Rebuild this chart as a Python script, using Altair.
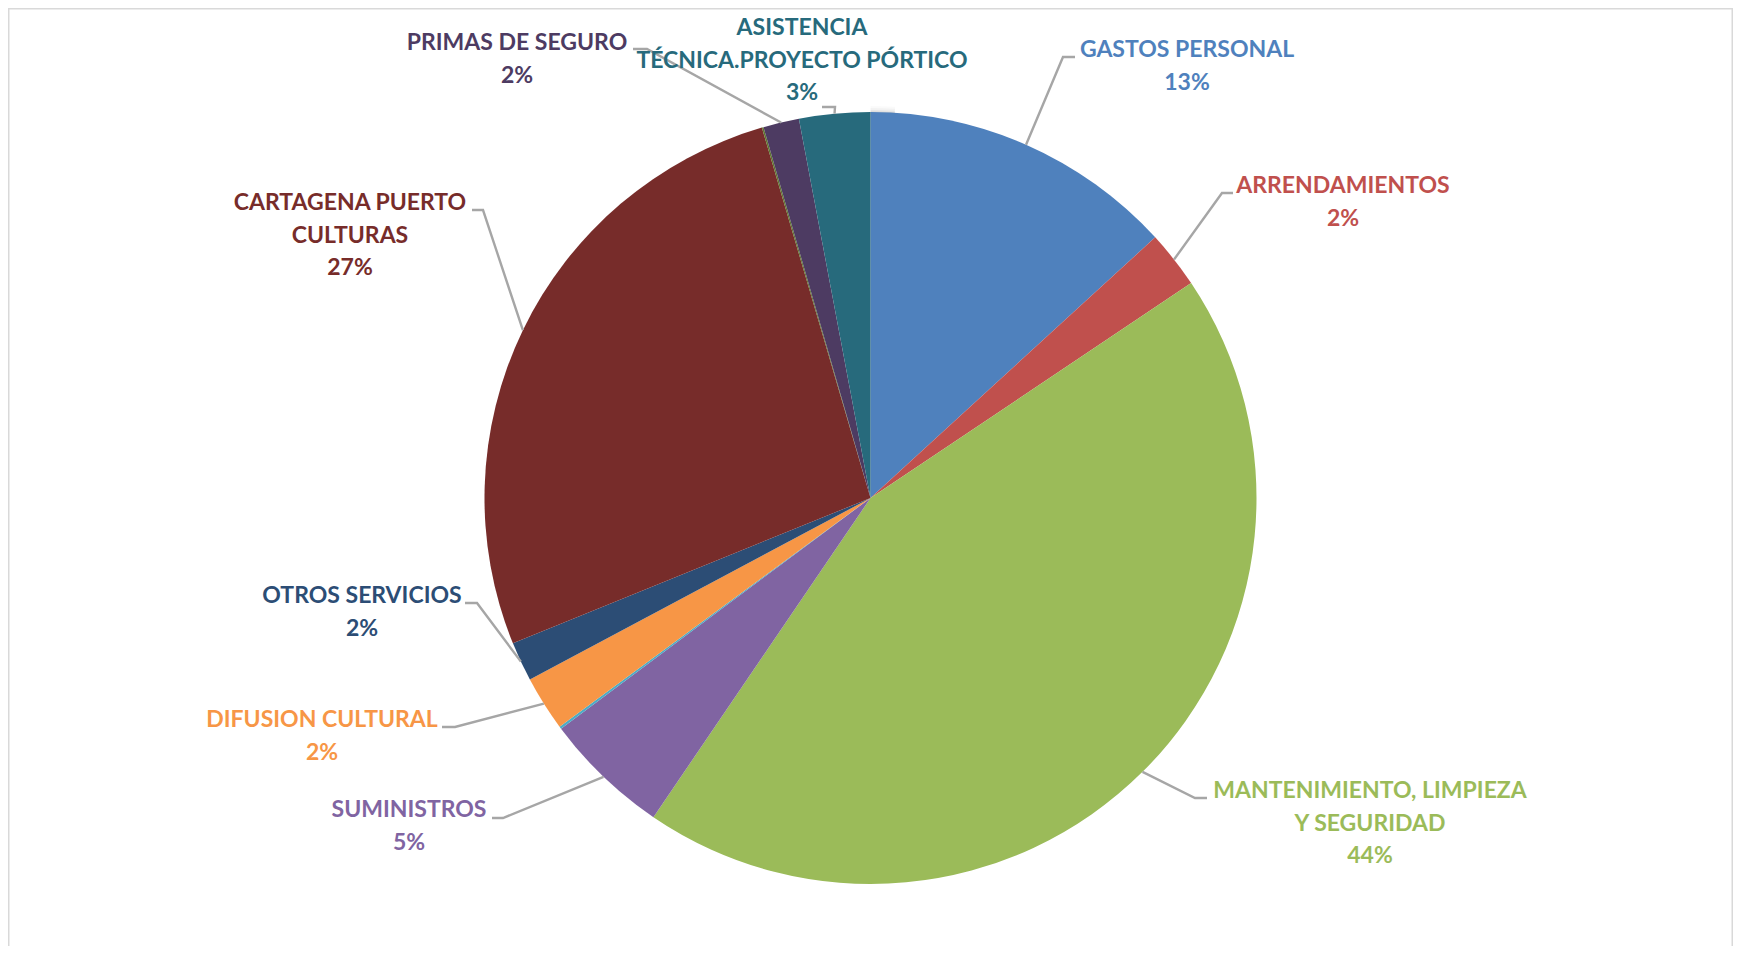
import math
import altair as alt
import pandas as pd

# ---- data ----
categories = [
    "GASTOS PERSONAL", "ARRENDAMIENTOS", "MANTENIMIENTO, LIMPIEZA Y SEGURIDAD",
    "SUMINISTROS", "OTROS (sin etiqueta)", "DIFUSION CULTURAL", "OTROS SERVICIOS",
    "CARTAGENA PUERTO CULTURAS", "OTROS 2 (sin etiqueta)", "PRIMAS DE SEGURO",
    "ASISTENCIA TÉCNICA.PROYECTO PÓRTICO",
]
values = [13.2, 2.4, 43.9, 5.3, 0.1, 2.3, 1.65, 26.6, 0.07, 1.5, 2.97]
label_lines = [
    ["GASTOS PERSONAL"], ["ARRENDAMIENTOS"], ["MANTENIMIENTO, LIMPIEZA", "Y SEGURIDAD"],
    ["SUMINISTROS"], [], ["DIFUSION CULTURAL"], ["OTROS SERVICIOS"],
    ["CARTAGENA PUERTO", "CULTURAS"], [], ["PRIMAS DE SEGURO"],
    ["ASISTENCIA", "TÉCNICA.PROYECTO PÓRTICO"],
]
colors = ["#4F81BD", "#C0504D", "#9BBB59", "#8064A2", "#4BACC6", "#F79646",
          "#2C4D75", "#772C2A", "#5F7530", "#4D3B62", "#276A7C"]

# ---- layout (pixels in chart space) ----
W, H = 1725, 938
CX, CY, R = 862.5, 490, 386
# label anchor (center x, first baseline y) and leader elbow / end points
label_x = [1179, 1335, 1362, 401, None, 314, 354, 342, None, 509, 794]
label_y = [49, 185, 790, 809, None, 719, 595, 202, None, 42, 27]
elbow_x = [1055, 1214, 1187, 495, None, 447, 469, 475, None, 639, 827]
elbow_y = [49, 185, 790, 810, None, 719, 595, 202, None, 41, 99]
end_x = [1067, 1225, 1199, 484, None, 434, 457, 464, None, 625, 814]
end_y = [49, 185, 790, 810, None, 719, 595, 202, None, 41, 99]

total = sum(values)
pct = [int(math.floor(v / total * 100 + 0.5)) for v in values]

df = pd.DataFrame({"cat": categories, "value": values, "idx": list(range(len(values)))})

# leader lines: start at the slice's outer edge, mid-angle (computed from the values)
rows_lines = []
rows_text = []
cum = 0.0
for i, v in enumerate(values):
    mid = (cum + v / 2) / total * 2 * math.pi
    cum += v
    if label_x[i] is None:
        continue
    sx = CX + R * math.sin(mid)
    sy = CY - R * math.cos(mid)
    for k, (px, py) in enumerate([(sx, sy), (elbow_x[i], elbow_y[i]), (end_x[i], end_y[i])]):
        rows_lines.append({"cat": categories[i], "k": k, "px": px, "py": py})
    rows_text.append({"cat": categories[i], "px": label_x[i], "py": label_y[i],
                      "txt": label_lines[i] + [f"{pct[i]}%"]})

lines_df = pd.DataFrame(rows_lines)
text_df = pd.DataFrame(rows_text)

xs = alt.Scale(domain=[0, W], range=[0, W], nice=False, zero=False)
ys = alt.Scale(domain=[0, H], range=[0, H], nice=False, zero=False)
color_scale = alt.Scale(domain=categories, range=colors)

# soft shadow around the pie
glow = alt.Chart(pd.DataFrame({"v": [1]}))
glow_layers = [
    glow.mark_arc(outerRadius=R + d, color="#000000", opacity=op).encode(
        theta=alt.Theta("v:Q"), x=alt.value(CX), y=alt.value(CY + 1))
    for d, op in [(7, 0.02), (5, 0.03), (3, 0.05), (1.5, 0.07)]
]

pie = alt.Chart(df).mark_arc(outerRadius=R, strokeWidth=0).encode(
    theta=alt.Theta("value:Q", stack=True),
    color=alt.Color("cat:N", scale=color_scale, legend=None),
    order=alt.Order("idx:Q"),
    x=alt.value(CX), y=alt.value(CY),
)

leaders = alt.Chart(lines_df).mark_line(color="#A6A6A6", strokeWidth=2.4).encode(
    x=alt.X("px:Q", scale=xs, axis=None),
    y=alt.Y("py:Q", scale=ys, axis=None),
    detail="cat:N",
    order="k:Q",
)

labels = alt.Chart(text_df).mark_text(
    font="Lato", fontWeight="bold", fontSize=23, align="center",
    baseline="alphabetic", lineHeight=32.5,
).encode(
    x=alt.X("px:Q", scale=xs, axis=None),
    y=alt.Y("py:Q", scale=ys, axis=None),
    text="txt",
    color=alt.Color("cat:N", scale=color_scale, legend=None),
)

frame_c = alt.Chart(pd.DataFrame({"v": [1]}))
frame = [
    frame_c.mark_rule(color="#D9D9D9", strokeWidth=1.5).encode(
        x=alt.value(0.75), y=alt.value(0), y2=alt.value(H)),
    frame_c.mark_rule(color="#D9D9D9", strokeWidth=1.5).encode(
        x=alt.value(W - 0.75), y=alt.value(0), y2=alt.value(H)),
    frame_c.mark_rule(color="#D9D9D9", strokeWidth=1.5).encode(
        x=alt.value(0), x2=alt.value(W), y=alt.value(0.75)),
]

chart = alt.layer(*glow_layers, pie, leaders, labels, *frame).properties(
    width=W, height=H, padding=0,
    autosize=alt.AutoSizeParams(type="none"),
).configure_view(stroke=None).resolve_scale(color="shared")

chart.save("out.html", embed_options={"renderer": "svg", "actions": False})
